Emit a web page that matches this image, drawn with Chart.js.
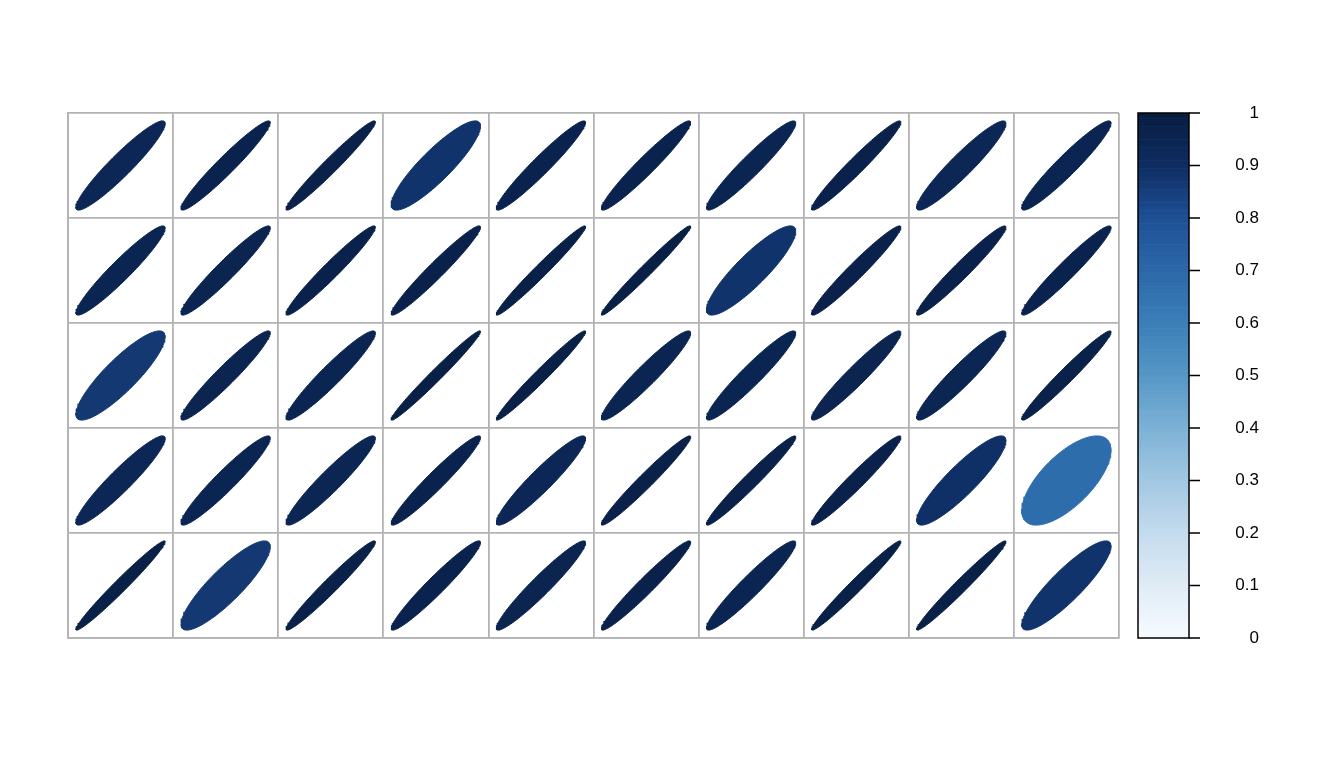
<!DOCTYPE html>
<html>
<head>
<meta charset="utf-8">
<script src="https://cdn.jsdelivr.net/npm/chart.js@4/dist/chart.umd.min.js"></script>
<style>
  html, body { margin: 0; padding: 0; background: #ffffff; }
  #wrap { width: 1344px; height: 768px; }
</style>
</head>
<body>
<div id="wrap"><canvas id="c" width="1344" height="768"></canvas></div>
<script>
// ---- data (rows top to bottom, columns left to right) ----
const row1 = [0.94, 0.962, 0.975, 0.882, 0.962, 0.962, 0.95, 0.969, 0.94, 0.95];
const row2 = [0.95, 0.956, 0.969, 0.969, 0.981, 0.984, 0.882, 0.969, 0.969, 0.962];
const row3 = [0.87, 0.956, 0.95, 0.984, 0.981, 0.95, 0.95, 0.956, 0.944, 0.975];
const row4 = [0.94, 0.95, 0.944, 0.962, 0.94, 0.975, 0.975, 0.969, 0.892, 0.68];
const row5 = [0.981, 0.87, 0.975, 0.962, 0.956, 0.969, 0.95, 0.981, 0.981, 0.882];
const colorbarTicks = [0, 0.1, 0.2, 0.3, 0.4, 0.5, 0.6, 0.7, 0.8, 0.9, 1];
const colorbarLabels = ['0', '0.1', '0.2', '0.3', '0.4', '0.5', '0.6', '0.7', '0.8', '0.9', '1'];

// ---- palette ----
const paletteStops = [
  [0.0, [247, 251, 255]],
  [0.1, [224, 236, 246]],
  [0.2, [196, 219, 238]],
  [0.3, [162, 200, 226]],
  [0.4, [125, 177, 214]],
  [0.5, [85, 151, 198]],
  [0.6, [59, 127, 184]],
  [0.7, [43, 104, 169]],
  [0.8, [30, 80, 150]],
  [0.9, [14, 45, 98]],
  [1.0, [8, 29, 65]]
];
function colorFor(v) {
  v = Math.max(0, Math.min(1, v));
  for (let i = 1; i < paletteStops.length; i++) {
    const [v1, c1] = paletteStops[i];
    const [v0, c0] = paletteStops[i - 1];
    if (v <= v1) {
      const t = (v - v0) / (v1 - v0);
      const c = c0.map((a, k) => Math.round(a + (c1[k] - a) * t));
      return `rgb(${c[0]},${c[1]},${c[2]})`;
    }
  }
  return 'rgb(8,29,65)';
}

const rows = [row1, row2, row3, row4, row5];
const nCols = row1.length, nRows = rows.length;
const ELL = 0.425; // semi extent in cell units (corrplot: 0.85 * 0.5)

function ellipsePoints(cx, cy, r) {
  const d = Math.acos(r);
  const pts = [];
  const n = 120;
  for (let i = 0; i <= n; i++) {
    const k = 2 * Math.PI * i / n;
    pts.push({ x: cx + ELL * Math.cos(k + d / 2), y: cy + ELL * Math.cos(k - d / 2) });
  }
  return pts;
}

const datasets = [];
rows.forEach((row, ri) => {
  row.forEach((v, ci) => {
    const col = colorFor(v);
    datasets.push({
      data: ellipsePoints(ci + 0.5, nRows - ri - 0.5, v),
      borderColor: col,
      backgroundColor: col,
      borderWidth: 1,
      pointRadius: 0,
      tension: 0,
      fill: 'shape',
      xAxisID: 'x',
      yAxisID: 'y'
    });
  });
});

const colorbarPlugin = {
  id: 'colorbar',
  afterDraw(chart) {
    const s = chart.scales.cb;
    const ctx = chart.ctx;
    const x0 = s.left + 19, x1 = s.left + 70;
    const yTop = s.getPixelForValue(1), yBot = s.getPixelForValue(0);
    const n = 200;
    for (let i = 0; i < n; i++) {
      const va = i / n, vb = (i + 1) / n;
      const ya = s.getPixelForValue(va), yb = s.getPixelForValue(vb);
      ctx.fillStyle = colorFor((va + vb) / 2);
      ctx.fillRect(x0, yb, x1 - x0, ya - yb + 0.6);
    }
    ctx.save();
    ctx.strokeStyle = '#000';
    ctx.lineWidth = 1.5;
    ctx.strokeRect(x0, yTop, x1 - x0, yBot - yTop);
    ctx.beginPath();
    colorbarTicks.forEach(t => {
      const y = s.getPixelForValue(t);
      ctx.moveTo(x1, y);
      ctx.lineTo(x1 + 11, y);
    });
    ctx.stroke();
    ctx.restore();
  }
};

const gridColor = '#b3b3b3';
new Chart(document.getElementById('c'), {
  type: 'line',
  data: { datasets },
  plugins: [colorbarPlugin],
  options: {
    responsive: false,
    animation: false,
    devicePixelRatio: 1,
    events: [],
    layout: { padding: { left: 68, top: 113, bottom: 130, right: 85 } },
    plugins: { legend: { display: false }, tooltip: { enabled: false } },
    scales: {
      x: {
        type: 'linear', min: 0, max: nCols, position: 'bottom',
        ticks: { display: false, stepSize: 1 },
        grid: { color: gridColor, lineWidth: 1.8, drawTicks: false },
        border: { display: true, color: gridColor, width: 1.8 },
        afterFit: s => { s.height = 0; }
      },
      y: {
        type: 'linear', min: 0, max: nRows, position: 'left',
        ticks: { display: false, stepSize: 1 },
        grid: { color: gridColor, lineWidth: 1.8, drawTicks: false },
        border: { display: true, color: gridColor, width: 1.8 },
        afterFit: s => { s.width = 0; }
      },
      cb: {
        type: 'linear', min: 0, max: 1, position: 'right',
        afterBuildTicks: s => { s.ticks = colorbarTicks.map(v => ({ value: v })); },
        ticks: {
          color: '#000',
          font: { family: "'Liberation Sans', Arial, sans-serif", size: 17 },
          padding: 3,
          crossAlign: 'far',
          callback: (v) => colorbarLabels[colorbarTicks.indexOf(v)] ?? ''
        },
        grid: { drawOnChartArea: false, drawTicks: true, tickLength: 114, tickColor: 'rgba(0,0,0,0)' },
        border: { display: false },
        afterFit: s => { s.width = 140; }
      }
    }
  }
});
</script>
</body>
</html>
